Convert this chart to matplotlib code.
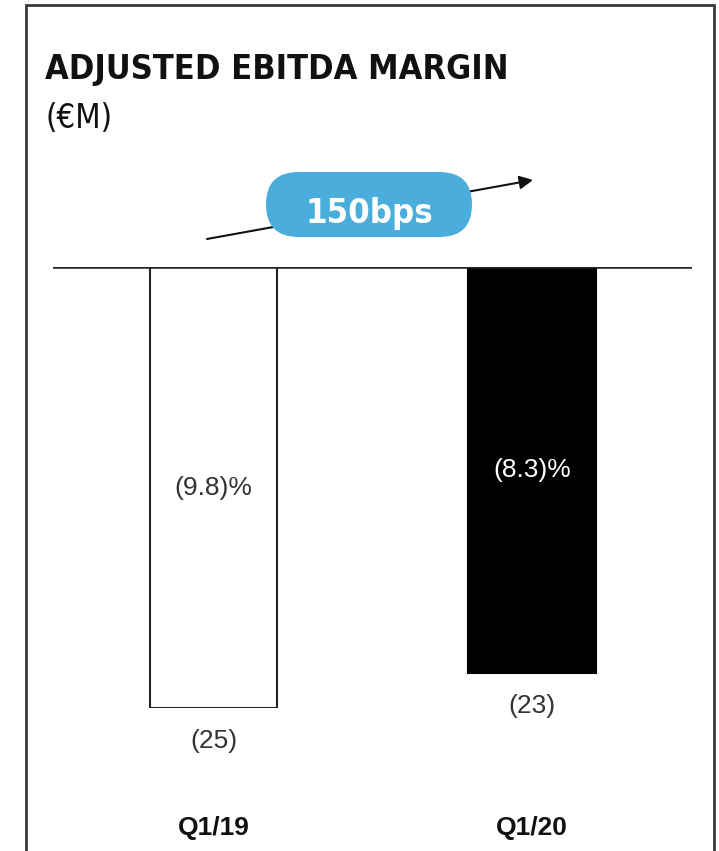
import matplotlib.pyplot as plt
from matplotlib.patches import FancyBboxPatch

# data
categories = ["Q1/19", "Q1/20"]
ebitda = [-25, -23]            # adjusted EBITDA, EUR M
ebitda_labels = ["(25)", "(23)"]
margin_labels = ["(9.8)%", "(8.3)%"]
change_label = "150bps"

W, H = 719, 851
NARROW = ["DejaVu Sans"]
SANS = ["Liberation Sans", "DejaVu Sans"]

fig = plt.figure(figsize=(W / 100, H / 100), dpi=100)

# overlay in pixel coords for frame / title / pill
bg = fig.add_axes([0, 0, 1, 1])
bg.set_xlim(0, W)
bg.set_ylim(H, 0)
bg.axis("off")

# frame (open at the bottom)
bg.plot([26, 26, 714, 714], [H + 5, 5, 5, H + 5], color="#3a3a3a", lw=2,
        solid_joinstyle="miter")

title = bg.text(45, 79, "ADJUSTED EBITDA MARGIN", family=NARROW,
                weight="bold", stretch="condensed", fontsize=31,
                va="baseline", ha="left", color="#111111")
unit = bg.text(45, 128, "(€M)", family=NARROW, stretch="condensed",
               fontsize=27, va="baseline", ha="left", color="#111111")

# trend arrow behind the pill
bg.annotate("", xy=(533, 180), xytext=(207, 239),
            arrowprops=dict(arrowstyle="-|>", color="#111111", lw=1.5,
                            mutation_scale=20, shrinkA=0, shrinkB=0),
            zorder=2)
pill = FancyBboxPatch((266, 172), 206, 65,
                      boxstyle="round,pad=0,rounding_size=32.5",
                      facecolor="#4aaddb", edgecolor="none", zorder=3)
bg.add_patch(pill)
badge = bg.text(369, 223, change_label, family=NARROW, weight="bold",
                stretch="condensed", fontsize=27, color="white",
                ha="center", va="baseline", zorder=4)

# bars
ax = fig.add_axes([53 / W, 1 - 708 / H, (692 - 53) / W, (708 - 267) / H])
ax.set_xlim(-0.504, 1.502)
ax.set_ylim(-25, 0)
x = range(len(categories))
ax.bar(x, ebitda, width=0.4, color=["white", "black"],
       edgecolor=["#222222", "black"], linewidth=1.5, zorder=2)
ax.axhline(0, color="#222222", lw=1.8, zorder=3)

for i, v in enumerate(ebitda):
    ax.text(i, v / 2, margin_labels[i], ha="center", va="center",
            family=SANS, fontsize=19,
            color="#333333" if i == 0 else "white")
    ax.annotate(ebitda_labels[i], xy=(i, v), xytext=(0, -33),
                textcoords="offset pixels", ha="center", va="center",
                family=SANS, fontsize=19, color="#333333",
                annotation_clip=False)

ax.set_xticks(list(x))
ax.set_xticklabels(categories, family=SANS, weight="bold", fontsize=19,
                   color="#111111")
ax.tick_params(axis="x", length=0, pad=78)
ax.set_yticks([])
for s in ax.spines.values():
    s.set_visible(False)
ax.patch.set_alpha(0)

# shrink the condensed-style texts to the widths seen in the original
fig.canvas.draw()
for t, target in [(title, 462), (unit, 67), (badge, 128)]:
    w = t.get_window_extent().width
    t.set_fontsize(t.get_fontsize() * target / w)

fig.savefig("out.png", dpi=100)
